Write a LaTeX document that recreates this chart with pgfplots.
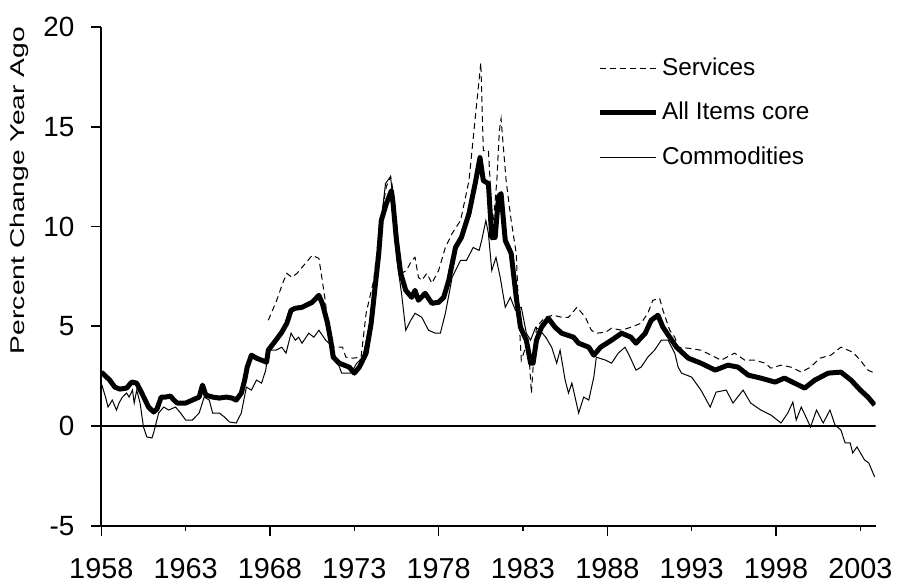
\documentclass[border=0pt]{standalone}
\usepackage{fontspec}
\setmainfont{Liberation Sans}
\usepackage{pgfplots}
\pgfplotsset{compat=1.18}
\usepackage{pgfplotstable}

\pgfplotstableread{
year val
1958.0 2.7
1958.5 2.3
1958.8 1.95
1959.1 1.85
1959.5 1.9
1959.8 2.2
1960.1 2.15
1960.4 1.65
1960.8 0.95
1961.1 0.7
1961.3 0.85
1961.55 1.45
1961.8 1.45
1962.1 1.5
1962.3 1.3
1962.5 1.15
1963.0 1.15
1963.4 1.3
1963.8 1.45
1964.0 2.05
1964.2 1.55
1964.6 1.45
1965.0 1.4
1965.4 1.45
1965.75 1.4
1966.0 1.3
1966.3 1.65
1966.5 2.3
1966.65 2.95
1966.9 3.55
1967.2 3.4
1967.5 3.3
1967.8 3.2
1967.9 3.8
1968.35 4.3
1968.7 4.7
1969.0 5.15
1969.25 5.8
1969.5 5.9
1969.9 5.95
1970.5 6.2
1970.9 6.55
1971.1 6.15
1971.4 5.2
1971.6 4.3
1971.75 3.45
1972.1 3.15
1972.7 2.95
1973.0 2.65
1973.3 2.95
1973.7 3.65
1974.0 5.15
1974.45 8.65
1974.6 10.3
1974.9 11.15
1975.2 11.8
1975.3 11.15
1975.5 9.3
1975.75 7.65
1976.05 6.8
1976.4 6.45
1976.6 6.8
1976.8 6.3
1977.2 6.65
1977.6 6.15
1978.0 6.2
1978.3 6.45
1978.6 7.3
1979.0 8.95
1979.35 9.45
1979.8 10.65
1980.2 12.3
1980.45 13.45
1980.65 12.3
1980.95 12.15
1981.15 9.45
1981.35 9.45
1981.55 11.5
1981.7 11.65
1981.95 9.3
1982.3 8.65
1982.6 6.45
1982.85 4.95
1983.2 4.3
1983.45 3.15
1983.6 3.15
1983.8 4.3
1984.1 4.95
1984.5 5.4
1984.9 4.95
1985.3 4.65
1986.0 4.45
1986.3 4.15
1986.9 3.95
1987.2 3.55
1987.6 3.95
1988.25 4.3
1988.85 4.65
1989.4 4.45
1989.7 4.15
1990.25 4.65
1990.6 5.3
1991.0 5.55
1991.3 4.95
1991.7 4.45
1992.1 3.95
1992.8 3.4
1993.55 3.15
1994.4 2.8
1995.15 3.05
1995.75 2.95
1996.35 2.55
1997.1 2.4
1997.95 2.2
1998.5 2.4
1999.1 2.15
1999.7 1.9
2000.3 2.3
2001.1 2.65
2001.85 2.7
2002.45 2.3
2003.0 1.8
2003.45 1.45
2003.85 1.05
}\core

\pgfplotstableread{
year val
1967.9 5.3
1968.4 6.3
1968.75 7.15
1969.0 7.65
1969.3 7.45
1969.6 7.65
1970.1 8.15
1970.5 8.55
1970.9 8.4
1971.1 7.3
1971.3 6.15
1971.5 4.45
1971.8 3.95
1972.3 3.95
1972.5 3.45
1972.9 3.4
1973.4 3.45
1973.7 5.65
1974.15 7.3
1974.55 10.3
1974.9 12.0
1975.15 12.5
1975.3 11.8
1975.6 9.3
1975.8 7.65
1976.1 7.8
1976.4 8.3
1976.6 8.45
1976.8 7.45
1977.0 7.3
1977.3 7.65
1977.6 7.15
1978.0 7.8
1978.4 8.95
1978.8 9.65
1979.3 10.3
1979.8 12.3
1980.2 15.7
1980.5 18.2
1980.65 13.8
1980.95 13.8
1981.05 12.3
1981.15 9.3
1981.45 12.3
1981.6 14.8
1981.7 15.4
1982.0 12.3
1982.3 10.3
1982.6 8.65
1982.75 5.65
1982.9 3.3
1983.3 4.3
1983.5 1.65
1983.6 2.95
1983.8 4.95
1984.3 5.45
1984.8 5.55
1985.3 5.45
1985.7 5.45
1986.2 5.95
1986.7 5.45
1987.05 4.8
1987.35 4.65
1987.9 4.7
1988.25 4.9
1988.85 4.8
1989.4 4.95
1990.0 5.15
1990.4 5.65
1990.7 6.3
1991.1 6.4
1991.3 5.8
1991.7 4.8
1992.0 4.45
1992.2 3.95
1992.8 3.9
1993.55 3.8
1994.15 3.55
1994.75 3.3
1995.55 3.65
1996.15 3.3
1996.75 3.3
1997.35 3.15
1997.7 2.9
1998.3 3.05
1998.9 2.95
1999.5 2.7
2000.05 2.95
2000.6 3.4
2001.25 3.55
2001.85 3.95
2002.55 3.7
2003.0 3.3
2003.45 2.8
2003.85 2.65
}\services

\pgfplotstableread{
year val
1958.0 2.15
1958.25 1.45
1958.4 0.95
1958.65 1.3
1958.9 0.8
1959.05 1.15
1959.25 1.45
1959.5 1.65
1959.65 1.45
1959.85 1.8
1959.95 1.15
1960.1 1.8
1960.3 1.15
1960.5 -0.05
1960.7 -0.55
1961.0 -0.6
1961.1 -0.35
1961.4 0.65
1961.7 0.95
1962.0 0.8
1962.4 0.95
1962.7 0.65
1963.0 0.3
1963.4 0.3
1963.8 0.65
1964.1 1.45
1964.4 1.3
1964.6 0.65
1965.0 0.65
1965.3 0.45
1965.6 0.2
1966.0 0.15
1966.3 0.65
1966.6 1.95
1966.9 1.8
1967.2 2.3
1967.5 2.15
1967.75 2.8
1967.9 3.8
1968.35 3.8
1968.7 3.95
1968.95 3.65
1969.25 4.65
1969.5 4.3
1969.7 4.45
1969.9 4.15
1970.3 4.65
1970.6 4.45
1970.9 4.8
1971.1 4.55
1971.3 4.3
1971.5 4.15
1971.9 3.45
1972.25 2.65
1972.8 2.65
1973.15 3.15
1973.5 3.45
1973.95 5.3
1974.3 7.15
1974.6 10.3
1974.85 12.15
1975.15 12.5
1975.3 11.3
1975.5 8.45
1975.8 6.65
1976.05 4.8
1976.35 5.3
1976.6 5.65
1977.0 5.45
1977.4 4.8
1977.8 4.65
1978.1 4.65
1978.4 5.65
1978.8 7.45
1979.3 8.3
1979.65 8.3
1980.05 8.95
1980.4 8.8
1980.55 9.3
1980.8 10.3
1980.95 9.65
1981.15 7.8
1981.4 8.45
1981.65 7.45
1981.95 5.95
1982.25 6.45
1982.55 5.8
1982.9 5.95
1983.2 4.65
1983.45 4.3
1983.75 4.95
1984.0 4.8
1984.35 4.45
1984.7 3.95
1985.0 3.15
1985.2 3.8
1985.5 2.3
1985.7 1.65
1985.9 2.15
1986.3 0.65
1986.6 1.45
1986.9 1.3
1987.2 2.45
1987.35 3.45
1987.9 3.3
1988.25 3.15
1988.65 3.65
1989.05 3.95
1989.35 3.45
1989.7 2.8
1990.0 2.95
1990.4 3.45
1990.8 3.8
1991.2 4.3
1991.6 4.3
1992.0 3.65
1992.2 2.95
1992.4 2.65
1993.0 2.45
1993.55 1.8
1994.1 0.95
1994.45 1.7
1995.05 1.8
1995.45 1.15
1996.05 1.8
1996.5 1.15
1997.1 0.8
1997.7 0.55
1998.3 0.15
1998.7 0.65
1999.0 1.2
1999.2 0.3
1999.5 0.95
2000.05 -0.05
2000.4 0.8
2000.8 0.15
2001.2 0.8
2001.5 0.05
2001.85 -0.2
2002.1 -0.85
2002.4 -0.85
2002.55 -1.35
2002.8 -1.05
2003.25 -1.7
2003.5 -1.85
2003.85 -2.55
}\commod

\begin{document}
\begin{tikzpicture}
\begin{axis}[
    scale only axis,
    width=388bp, height=250bp,
    xmin=1958, xmax=2003.9,
    ymin=-5, ymax=20,
    axis lines*=left,
    axis line style={line width=1bp},
    xtick={1958,1968,1978,1988,1998},
    extra x ticks={1963,1973,1983,1993,2003},
    extra x tick style={major tick length=2.5bp, xticklabel style={yshift=-2.5bp}},
    ytick={-5,0,...,20},
    tick align=outside,
    tick style={black, line width=0.8bp},
    major tick length=5bp,
    yticklabel style={font=\fontsize{14}{16}\selectfont, xshift=-5bp},
    xticklabel style={font=\fontsize{14.5}{16}\selectfont, yshift=-8bp},
    /pgf/number format/assume math mode=true,
    /pgf/number format/1000 sep={},
    ylabel={\scalebox{1.42}[1]{Percent Change Year Ago}},
    ylabel style={font=\fontsize{10}{12}\selectfont, inner ysep=5bp, at={(axis description cs:-0.106,0.672)}, anchor=center},
    legend style={draw=none, fill=none, at={(axis description cs:0.640,0.947)}, anchor=north west,
        font=\fontsize{12.25}{14}\selectfont, row sep=8bp, inner sep=0pt},
    legend cell align=left,
    legend image code/.code={\draw[#1] (0bp,0bp) -- (28bp,0bp);},
]
\coordinate (topref) at (rel axis cs:0,1);
\draw[black, line width=1bp] (axis cs:1958,0) -- (axis cs:2003.9,0);
\addplot[black, line width=0.5bp, dash pattern=on 3bp off 2bp] table[x=year, y=val] {\services};
\addlegendentry{Services}
\addplot[black, line width=2.5bp, line join=round] table[x=year, y=val] {\core};
\addlegendentry{All Items core}
\addplot[black, line width=0.5bp] table[x=year, y=val] {\commod};
\addlegendentry{Commodities}
\end{axis}
\path (topref) ++(0,13.5bp);
\end{tikzpicture}
\end{document}
